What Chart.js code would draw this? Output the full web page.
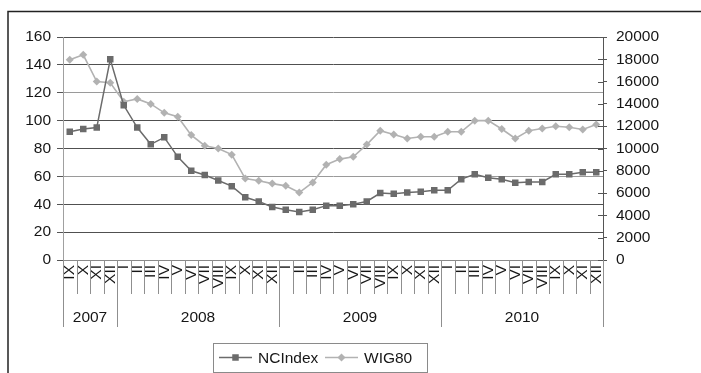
<!DOCTYPE html>
<html>
<head>
<meta charset="utf-8">
<script src="https://cdn.jsdelivr.net/npm/chart.js@4/dist/chart.umd.min.js"></script>
<style>
  html, body { margin: 0; padding: 0; background: #fff; }
  canvas { display: block; }
</style>
</head>
<body>
<canvas id="c" width="701" height="373"></canvas>
<script>
// Month labels (Roman numerals) and the years they belong to
const months2007 = ['IX', 'X', 'XI', 'XII'];
const monthsFull = ['I', 'II', 'III', 'IV', 'V', 'VI', 'VII', 'VIII', 'IX', 'X', 'XI', 'XII'];
const years = ['2007', '2008', '2009', '2010'];
const monthsInYear = [4, 12, 12, 12];
const categories = months2007.concat(monthsFull, monthsFull, monthsFull);

// Series values, IX 2007 – XII 2010
const ncIndex = [92, 94, 95, 144,
  111, 95, 83, 88, 74, 64, 61, 57, 53, 45, 42, 38,
  36, 34.5, 36, 39, 39, 40, 42, 48, 47.5, 48.5, 49, 50,
  50, 58, 61.5, 59, 58, 55.5, 56, 56, 61.5, 61.5, 63, 63];
const wig80 = [17950, 18400, 16000, 15900,
  14200, 14450, 14000, 13200, 12850, 11200, 10250, 10000, 9450, 7300, 7100, 6850,
  6650, 6050, 6950, 8550, 9050, 9250, 10350, 11600, 11250, 10900, 11050, 11050,
  11500, 11500, 12500, 12500, 11750, 10900, 11600, 11800, 12000, 11900, 11700, 12150];

// Axis tick settings
const leftTicks = { min: 0, max: 160, step: 20 };
const rightTicks = { min: 0, max: 20000, step: 2000 };

const FONT = 'Liberation Sans, Arial, sans-serif';
const FONT_SIZE = 15.5;
const TEXT = '#161616';
const NC_COLOR = '#6b6b6b';
const WIG_COLOR = '#b2b2b2';

function marker(ctx, style, x, y, r, color) {
  ctx.save();
  ctx.fillStyle = color;
  ctx.beginPath();
  if (style === 'rect') {
    const s = Math.SQRT1_2 * r;
    ctx.rect(x - s, y - s, 2 * s, 2 * s);
  } else {
    ctx.moveTo(x, y - r); ctx.lineTo(x + r, y); ctx.lineTo(x, y + r); ctx.lineTo(x - r, y);
    ctx.closePath();
  }
  ctx.fill();
  ctx.restore();
}

// Category separators, year row, inward right-axis ticks, legend and frame
const decor = {
  id: 'decor',
  afterDraw(chart) {
    const { ctx, chartArea, scales } = chart;
    const xs = scales.x, yr = scales.y2;
    const n = categories.length;
    const bottom = chartArea.bottom;

    const yearEdges = [0];
    monthsInYear.forEach(m => yearEdges.push(yearEdges[yearEdges.length - 1] + m));

    ctx.save();
    ctx.lineWidth = 1;
    ctx.strokeStyle = '#8f8f8f';
    for (let i = 0; i <= n; i++) {
      const px = Math.round(xs.getPixelForDecimal(i / n)) + 0.5;
      const long = yearEdges.includes(i);
      ctx.beginPath();
      ctx.moveTo(px, bottom);
      ctx.lineTo(px, bottom + (long ? 67 : 34));
      ctx.stroke();
    }

    // year labels
    ctx.fillStyle = TEXT;
    ctx.font = FONT_SIZE + 'px ' + FONT;
    ctx.textAlign = 'center';
    ctx.textBaseline = 'middle';
    years.forEach((yr, k) => {
      const mid = (yearEdges[k] + yearEdges[k + 1]) / 2;
      ctx.fillText(yr, xs.getPixelForDecimal(mid / n), bottom + 58);
    });

    // inward part of the right axis tick marks
    ctx.strokeStyle = '#555';
    for (let v = rightTicks.min; v <= rightTicks.max; v += rightTicks.step) {
      const py = Math.round(yr.getPixelForValue(v)) + 0.5;
      ctx.beginPath();
      ctx.moveTo(chartArea.right - 5, py);
      ctx.lineTo(chartArea.right, py);
      ctx.stroke();
    }

    // legend
    const lx = 213.5, ly = 343.5, lw = 214, lh = 29;
    ctx.strokeStyle = '#8a8a8a';
    ctx.lineWidth = 1;
    ctx.strokeRect(lx, ly, lw, lh);
    const cy = ly + 14;
    const items = [
      { label: 'NCIndex', color: NC_COLOR, style: 'rect', r: 4.6, x0: 219 },
      { label: 'WIG80', color: WIG_COLOR, style: 'diamond', r: 4, x0: 325 }
    ];
    ctx.textAlign = 'left';
    items.forEach(it => {
      ctx.strokeStyle = it.color;
      ctx.lineWidth = 1.5;
      ctx.beginPath();
      ctx.moveTo(it.x0, cy);
      ctx.lineTo(it.x0 + 33, cy);
      ctx.stroke();
      marker(ctx, it.style, it.x0 + 16.5, cy, it.r, it.color);
      ctx.fillStyle = TEXT;
      ctx.fillText(it.label, it.x0 + 39, cy + 1);
    });

    // outer frame
    ctx.strokeStyle = '#222';
    ctx.lineWidth = 1.5;
    ctx.beginPath();
    ctx.moveTo(8, chart.height);
    ctx.lineTo(8, 11.5);
    ctx.lineTo(chart.width, 11.5);
    ctx.stroke();
    ctx.restore();
  }
};

new Chart(document.getElementById('c'), {
  type: 'line',
  data: {
    labels: categories,
    datasets: [
      {
        label: 'NCIndex',
        data: ncIndex,
        yAxisID: 'y',
        borderColor: NC_COLOR,
        backgroundColor: NC_COLOR,
        borderWidth: 1.5,
        pointStyle: 'rect',
        pointRadius: 4.6,
        pointBorderWidth: 0,
        tension: 0
      },
      {
        label: 'WIG80',
        data: wig80,
        yAxisID: 'y2',
        borderColor: WIG_COLOR,
        backgroundColor: WIG_COLOR,
        borderWidth: 1.6,
        pointStyle: 'rectRot',
        pointRadius: 4,
        pointBorderWidth: 0,
        tension: 0
      }
    ]
  },
  options: {
    responsive: false,
    animation: false,
    devicePixelRatio: 1,
    layout: { padding: { top: 37, left: 0, right: 0, bottom: 0 } },
    plugins: { legend: { display: false }, tooltip: { enabled: false } },
    scales: {
      x: {
        type: 'category',
        offset: true,
        grid: { display: true, drawOnChartArea: false, drawTicks: false },
        border: { display: true, color: '#8a8a8a', width: 1 },
        ticks: {
          autoSkip: false, minRotation: 90, maxRotation: 90, padding: 5,
          color: TEXT, font: { family: FONT, size: FONT_SIZE }
        },
        afterFit(s) { s.height = 113; }
      },
      y: {
        position: 'left',
        min: leftTicks.min, max: leftTicks.max,
        ticks: {
          stepSize: leftTicks.step, padding: 6, color: TEXT,
          font: { family: FONT, size: FONT_SIZE }, callback: v => String(v)
        },
        grid: {
          color: c => (c.tick && (c.tick.value === 60 || c.tick.value === 120)) ? '#9a9a9a' : '#505050',
          tickColor: '#555', tickLength: 6, lineWidth: 1
        },
        border: { display: true, color: '#a0a0a0', width: 1 },
        afterFit(s) { s.width = 63; }
      },
      y2: {
        position: 'right',
        min: rightTicks.min, max: rightTicks.max,
        ticks: {
          stepSize: rightTicks.step, padding: 9, color: TEXT,
          font: { family: FONT, size: FONT_SIZE }, callback: v => String(v)
        },
        grid: { drawOnChartArea: false, tickColor: '#555', tickLength: 4 },
        border: { display: true, color: '#555', width: 1 },
        afterFit(s) { s.width = 98; }
      }
    }
  },
  plugins: [decor]
});
</script>
</body>
</html>
